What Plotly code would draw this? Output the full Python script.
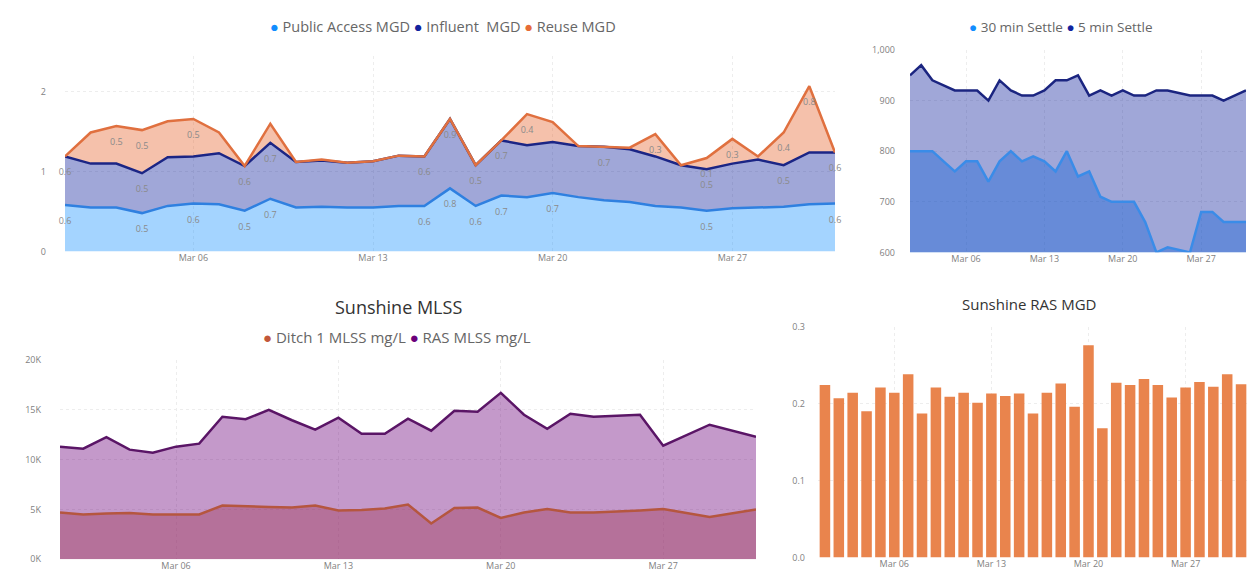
import plotly.graph_objects as go
import pandas as pd

# ---------------- data ----------------
dates = pd.date_range("2023-03-01", "2023-03-31", freq="D")

public_access_mgd = [0.58, 0.55, 0.55, 0.48, 0.57, 0.60, 0.59, 0.51, 0.66, 0.55, 0.56,
                     0.55, 0.55, 0.57, 0.57, 0.79, 0.57, 0.70, 0.68, 0.73, 0.68, 0.64,
                     0.62, 0.57, 0.55, 0.51, 0.54, 0.55, 0.56, 0.59, 0.60]
influent_mgd = [0.61, 0.55, 0.55, 0.50, 0.61, 0.59, 0.64, 0.56, 0.70, 0.57, 0.58,
                0.56, 0.58, 0.63, 0.62, 0.87, 0.51, 0.69, 0.65, 0.64, 0.64, 0.67,
                0.66, 0.62, 0.53, 0.52, 0.56, 0.60, 0.52, 0.65, 0.64]
reuse_mgd = [0.0, 0.39, 0.47, 0.54, 0.45, 0.47, 0.26, 0.0, 0.24, 0.0, 0.01,
             0.0, 0.0, 0.0, 0.0, 0.0, 0.0, 0.0, 0.39, 0.25, 0.0, 0.0,
             0.02, 0.28, 0.0, 0.14, 0.31, 0.04, 0.41, 0.83, 0.0]
pa_labels = [0, 3, 5, 7, 8, 14, 15, 16, 17, 19, 25, 30]
influent_labels = [0, 3, 7, 8, 14, 15, 16, 17, 21, 25, 28, 30]
reuse_labels = [2, 3, 5, 18, 23, 25, 26, 28, 29]

settle_30 = [800, 800, 800, 780, 760, 780, 780, 740, 780, 800, 780,
             790, 780, 760, 800, 750, 760, 710, 700, 700, 700, 660,
             600, 610, 605, 600, 680, 680, 660, 660, 660]
settle_5 = [950, 970, 940, 930, 920, 920, 920, 900, 940, 920, 910,
            910, 920, 940, 940, 950, 910, 920, 910, 920, 910, 910,
            920, 920, 915, 910, 910, 910, 900, 910, 920]

ditch1_mlss = [4700, 4500, 4600, 4650, 4500, 4500, 4500, 5400, 5300, 5250, 5200,
               5400, 4900, 4950, 5100, 5500, 3600, 5150, 5200, 4150, 4700, 5050,
               4700, 4700, None, 4900, 5050, None, 4250, None, 5000]
ras_mlss = [11300, 11100, 12250, 11000, 10700, 11300, 11600, 14300, 14050, 15000, 13950,
            13000, 14200, 12600, 12600, 14100, 12900, 14900, 14800, 16700, 14500, 13100,
            14600, 14300, None, 14500, 11400, None, 13500, None, 12300]

ras_mgd = [0.224, 0.207, 0.214, 0.190, 0.221, 0.214, 0.238, 0.187, 0.221, 0.209, 0.214,
           0.201, 0.213, 0.210, 0.213, 0.187, 0.214, 0.226, 0.196, 0.276, 0.168, 0.227,
           0.224, 0.232, 0.224, 0.208, 0.221, 0.228, 0.222, 0.238, 0.225]

flow_names = ["Public Access MGD", "Influent  MGD", "Reuse MGD"]
settle_names = ["30 min Settle", "5 min Settle"]
mlss_names = ["Ditch 1 MLSS mg/L", "RAS MLSS mg/L"]

mlss_ticks = [0, 5000, 10000, 15000, 20000]
mlss_ticktext = [f"{v // 1000}K" for v in mlss_ticks]

# ---------------- helpers ----------------
W, H = 1248, 580
FONT = "Open Sans"
TICK = dict(size=9, color="#7f7f7f", family=FONT)


def dx(a, b):
    return [a / W, b / W]


def dy(top, bottom):
    return [1 - bottom / H, 1 - top / H]


def lbl(vals, idx):
    return [f"{v:.1f}" if i in idx else "" for i, v in enumerate(vals)]


def legend_text(names, colors):
    parts = [f'<span style="color:{c}">●</span> {n}' for n, c in zip(names, colors)]
    return " ".join(parts)


fig = go.Figure()

# ---------- top-left: stacked area ----------
stack_specs = [
    (public_access_mgd, pa_labels, "#2F80E0", "rgba(17,141,255,0.38)"),
    (influent_mgd, influent_labels, "#1B2585", "rgba(18,35,158,0.40)"),
    (reuse_mgd, reuse_labels, "#E0703F", "rgba(230,108,55,0.42)"),
]
for (vals, idx, lc, fc), nm in zip(stack_specs, flow_names):
    fig.add_trace(go.Scatter(
        x=dates, y=vals, name=nm, stackgroup="flow", mode="lines+markers+text",
        line=dict(color=lc, width=2.5), fillcolor=fc,
        marker=dict(size=18, opacity=0), cliponaxis=False,
        text=lbl(vals, idx), textposition="bottom center",
        textfont=dict(size=9, color="#8a8a8a", family=FONT),
        showlegend=False, hoverinfo="skip", xaxis="x", yaxis="y"))

# ---------- top-right: settle (fills first, lines on top) ----------
settle_specs = [(settle_30, "#3A8CE8", "rgba(17,141,255,0.40)"),
                (settle_5, "#1B2580", "rgba(18,35,158,0.40)")]
for (vals, lc, fc), nm in zip(settle_specs, settle_names):
    fig.add_trace(go.Scatter(x=dates, y=vals, name=nm, mode="lines", fill="tozeroy",
                             line=dict(width=0, color=lc), fillcolor=fc,
                             showlegend=False, xaxis="x2", yaxis="y2"))
for (vals, lc, fc), nm in zip(settle_specs, settle_names):
    fig.add_trace(go.Scatter(x=dates, y=vals, name=nm, mode="lines",
                             line=dict(color=lc, width=2.5),
                             showlegend=False, xaxis="x2", yaxis="y2"))

# ---------- bottom-left: MLSS ----------
mlss_specs = [(ditch1_mlss, "#B5563F", "rgba(194,87,58,0.40)"),
              (ras_mlss, "#5A1566", "rgba(107,0,123,0.40)")]
for (vals, lc, fc), nm in zip(mlss_specs, mlss_names):
    fig.add_trace(go.Scatter(x=dates, y=vals, name=nm, mode="lines", fill="tozeroy",
                             connectgaps=True, line=dict(width=0, color=lc),
                             fillcolor=fc, showlegend=False, xaxis="x3", yaxis="y3"))
for (vals, lc, fc), nm in zip(mlss_specs, mlss_names):
    fig.add_trace(go.Scatter(x=dates, y=vals, name=nm, mode="lines", connectgaps=True,
                             line=dict(color=lc, width=2.5),
                             showlegend=False, xaxis="x3", yaxis="y3"))

# ---------- bottom-right: bars ----------
fig.add_trace(go.Bar(x=dates, y=ras_mgd, name="Sunshine RAS MGD",
                     marker=dict(color="#E9844D", line_width=0),
                     showlegend=False, xaxis="x4", yaxis="y4"))

# ---------------- layout ----------------
grid = dict(showgrid=True, gridcolor="#ededed", griddash="dot", gridwidth=1,
            zeroline=False, showline=False, ticks="")


def xax(dom, anchor, rng):
    return dict(domain=dom, anchor=anchor, type="date", range=rng,
                tick0="2023-03-06", dtick=7 * 86400000, tickformat="%b %d",
                tickfont=TICK, **grid)


def ann(text, x, y, size, color="#666666"):
    return dict(text=text, x=x / W, y=1 - y / H, xref="paper", yref="paper",
                showarrow=False, xanchor="center", yanchor="middle",
                font=dict(size=size, color=color, family=FONT))


fig.update_layout(
    width=W, height=H, margin=dict(l=0, r=0, t=0, b=0),
    paper_bgcolor="white", plot_bgcolor="white", bargap=0.24,
    font=dict(family=FONT), showlegend=False,
    xaxis=xax(dx(65, 835), "y", ["2023-03-01", "2023-03-31"]),
    yaxis=dict(domain=dy(50, 250), anchor="x", range=[0, 2.45], tickvals=[0, 1, 2],
               tickfont=TICK, ticklabelstandoff=18, **grid),
    xaxis2=xax(dx(910, 1246), "y2", ["2023-03-01", "2023-03-31"]),
    yaxis2=dict(domain=dy(44, 251), anchor="x2", range=[600, 1000],
                tickvals=[600, 700, 800, 900, 1000], tickformat=",",
                tickfont=TICK, ticklabelstandoff=14, **grid),
    xaxis3=xax(dx(60, 756), "y3", ["2023-03-01", "2023-03-31"]),
    yaxis3=dict(domain=dy(361, 565), anchor="x3", range=[0, 20000],
                tickvals=mlss_ticks, ticktext=mlss_ticktext,
                tickfont=TICK, ticklabelstandoff=18, **grid),
    xaxis4=xax(dx(818, 1248), "y4", ["2023-02-28 12:00", "2023-03-31 12:00"]),
    yaxis4=dict(domain=dy(327, 563), anchor="x4", range=[0, 0.3],
                tickvals=[0, 0.1, 0.2, 0.3], tickformat=".1f",
                tickfont=TICK, ticklabelstandoff=12, **grid),
    annotations=[
        ann(legend_text(flow_names, ["#118DFF", "#12239E", "#E66C37"]), 443, 20, 14.5),
        ann(legend_text(settle_names, ["#118DFF", "#12239E"]), 1061, 20, 13.5),
        ann(legend_text(mlss_names, ["#C2573A", "#6B007B"]), 397, 338, 15),
        ann("Sunshine MLSS", 398, 307, 18, "#333333"),
        ann("Sunshine RAS MGD", 1029, 304, 15, "#333333"),
    ],
)

fig.write_html("out.html", config={"displayModeBar": False},
               post_script="document.body.style.margin='0px';")
